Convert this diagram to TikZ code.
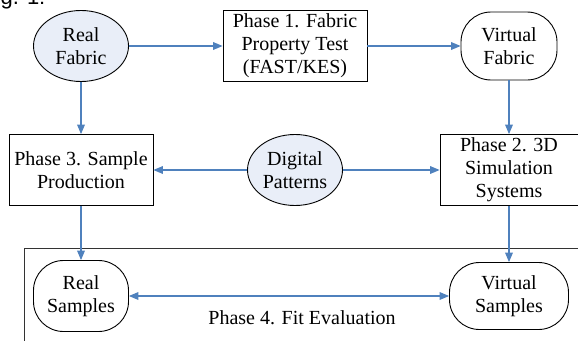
\documentclass[tikz,border=0pt]{standalone}
\usepackage{fontspec}
\setmainfont{Liberation Serif}
\setsansfont{Liberation Sans}
\usepackage{tikz}
\usetikzlibrary{arrows,shapes.geometric}
\definecolor{hblue}{RGB}{79,129,189}
\definecolor{lblue}{RGB}{233,238,248}

\begin{document}
\begin{tikzpicture}[x=1pt,y=-1pt,>=triangle 45,node distance=214pt,
	every node/.style={font=\fontsize{20}{23}\selectfont,align=center,inner sep=0pt},
	phase/.style={draw,line width=0.9pt,minimum width=144pt,minimum height=71pt},
	oval/.style={draw,line width=0.9pt,ellipse,fill=lblue,minimum width=95pt,minimum height=71pt},
	roundbox/.style={draw,line width=0.9pt,rounded corners=30pt,minimum width=96pt,minimum height=68pt}]
	\useasboundingbox (0,0) rectangle (578,340);
	\clip (0,0) rectangle (578,340);
	\node[anchor=base west,font=\sffamily\fontsize{22}{24}\selectfont] (fig) at (-18,4.5) {Fig. 1:};

	% fit evaluation frame, runs off the page on the right and bottom
	\draw[line width=0.9pt,black!80] (24,248) rectangle (620,380);
	\node (P4) at (302,318) {Phase 4. Fit Evaluation};

	  \node[oval] (RF) at (81,46) {Real\\Fabric};
	  \node[phase] (P1) [right of=RF] {Phase 1. Fabric\\Property Test\\(FAST/KES)};
	  \node[roundbox] (VF) [right of=P1] {Virtual\\Fabric};
	  \node[phase] (P3) [node distance=124pt,below of=RF] {Phase 3. Sample\\Production};
	  \node[oval] (DP) [right of=P3] {Digital\\Patterns};
	  \node[phase,minimum width=138pt] (P2) [right of=DP] {Phase 2. 3D\\Simulation\\Systems};
	  \node[roundbox,minimum width=95pt,minimum height=71pt] (RS) [node distance=126pt,below of=P3] {Real\\Samples};
	  \node[roundbox,minimum width=119pt,minimum height=67pt] (VS) [node distance=126pt,below of=P2] {Virtual\\Samples};

	  \path[->,hblue,line width=1.2pt]
		(RF) edge (P1)
		(P1) edge (VF)
		(VF) edge (P2)
		(RF) edge (P3)
		(DP) edge (P3)
		(DP) edge (P2)
		(P3) edge (RS)
		(P2) edge (VS)
		(RS) edge[<->] (VS)
	;
\end{tikzpicture}
\end{document}
